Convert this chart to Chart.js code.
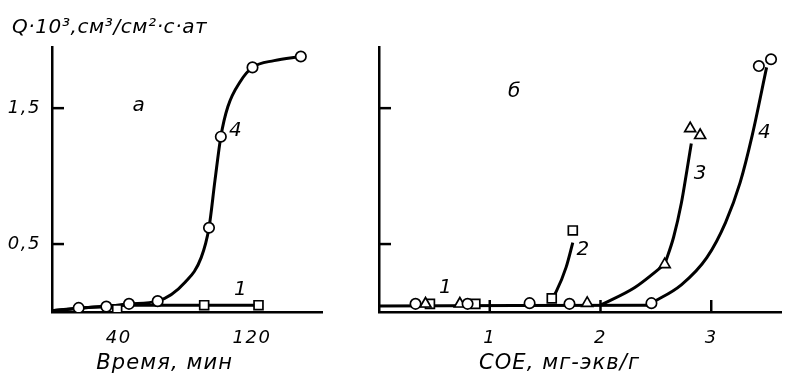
<!DOCTYPE html>
<html>
<head>
<meta charset="utf-8">
<script src="https://cdn.jsdelivr.net/npm/chart.js@4.4.1/dist/chart.umd.min.js"></script>
<style>
body { margin: 0; background: #fff; }
#wrap { position: relative; width: 789px; height: 380px; }
canvas { position: absolute; top: 0; }
</style>
</head>
<body>
<div id="wrap">
  <canvas id="chartA" width="330" height="380" style="left:0"></canvas>
  <canvas id="chartB" width="459" height="380" style="left:330px"></canvas>
</div>
<script>
// ---- panel а : Q vs time ----
const timeTicks = [40, 120];
const qTicks = [0.5, 1.5];
const timeCircles = [16, 32.6, 46.2, 63.4, 94.2, 101.3, 120.3, 149.3];
const qCircles = [0.03, 0.04, 0.06, 0.08, 0.62, 1.29, 1.80, 1.88];
const timeSquares = [39.1, 91.3, 123.9];
const qSquares = [0.02, 0.05, 0.05];
const timeCurve4 = [0, 16, 32.6, 46.2, 63.4, 80, 89.5, 94.2, 97.8, 101.3, 105.5, 113.2, 120.3, 133.3, 149.3];
const qCurve4 = [0.01, 0.03, 0.04, 0.06, 0.08, 0.22, 0.40, 0.62, 0.97, 1.29, 1.51, 1.70, 1.80, 1.85, 1.88];
const timeCurve1 = [0, 46.2, 91.3, 123.9];
const qCurve1 = [0.01, 0.05, 0.05, 0.05];
const notesA = ['а', '4', '1'];
const notesAx = [52, 110, 113];
const notesAy = [1.52, 1.33, 0.16];

// ---- panel б : Q vs СОЕ ----
const coeTicks = [1, 2, 3];
const coeCircles = [0.33, 0.80, 1.36, 1.72, 2.46, 3.43, 3.54];
const qbCircles = [0.06, 0.06, 0.065, 0.06, 0.065, 1.81, 1.86];
const coeTriangles = [0.42, 0.73, 1.88, 2.58, 2.81, 2.90];
const qbTriangles = [0.06, 0.06, 0.065, 0.35, 1.35, 1.30];
const coeSquares = [0.46, 0.87, 1.56, 1.75];
const qbSquares = [0.06, 0.06, 0.10, 0.60];
const coeCurve1 = [0, 2.46];
const qbCurve1 = [0.045, 0.05];
const coeCurve2 = [1.56, 1.60, 1.69, 1.75];
const qbCurve2 = [0.10, 0.15, 0.33, 0.51];
const coeCurve3a = [2.0, 2.31, 2.58]; // до треугольника
const qbCurve3a = [0.05, 0.18, 0.35];
const coeCurve3b = [2.58, 2.66, 2.73, 2.78, 2.82]; // после треугольника
const qbCurve3b = [0.35, 0.55, 0.80, 1.04, 1.24];
const coeCurve4 = [2.46, 2.73, 2.96, 3.13, 3.26, 3.37, 3.50];
const qbCurve4 = [0.065, 0.20, 0.40, 0.66, 0.95, 1.30, 1.80];
const notesB = ['б', '4', '3', '2', '1'];
const notesBx = [1.22, 3.48, 2.90, 1.84, 0.60];
const notesBy = [1.62, 1.32, 1.02, 0.46, 0.18];

const FONT = "'DejaVu Sans', sans-serif";

function pts(xs, ys) { // пары x/y для scatter
  return xs.map((x, i) => ({ x: x, y: ys[i] }));
}

function markers(xs, ys, style) {
  return {
    data: pts(xs, ys), showLine: false, pointStyle: style,
    pointRadius: style === 'circle' ? 5.2 : 6.3,
    pointBackgroundColor: '#fff', pointBorderColor: '#000', pointBorderWidth: 1.7
  };
}

function curve(xs, ys) {
  return {
    data: pts(xs, ys), showLine: true, borderColor: '#000', borderWidth: 3,
    pointRadius: 0, cubicInterpolationMode: 'monotone'
  };
}

// засечки внутрь, подписи кривых, заголовок и подпись оси
const paperPlugin = {
  id: 'paper',
  beforeDraw(chart) {
    chart.ctx.letterSpacing = '1.5px';
  },
  afterDatasetsDraw(chart, args, opts) {
    const ctx = chart.ctx;
    const xs = chart.scales.x, ys = chart.scales.y;
    const area = chart.chartArea;
    ctx.save();
    ctx.strokeStyle = '#000';
    ctx.lineWidth = 2.5;
    opts.yMarks.forEach(v => {
      const py = ys.getPixelForValue(v);
      ctx.beginPath(); ctx.moveTo(area.left, py); ctx.lineTo(area.left + 12, py); ctx.stroke();
    });
    opts.xMarks.forEach(v => {
      const px = xs.getPixelForValue(v);
      ctx.beginPath(); ctx.moveTo(px, area.bottom); ctx.lineTo(px, area.bottom - 12); ctx.stroke();
    });
    ctx.fillStyle = '#000';
    ctx.textAlign = 'center';
    ctx.textBaseline = 'middle';
    ctx.letterSpacing = '0px';
    ctx.font = 'italic 20px ' + FONT;
    opts.notes.forEach((t, i) => {
      ctx.fillText(t, xs.getPixelForValue(opts.notesX[i]), ys.getPixelForValue(opts.notesY[i]));
    });
    ctx.letterSpacing = '1.1px';
    ctx.font = 'italic 21px ' + FONT;
    ctx.fillText(opts.caption, xs.getPixelForValue(opts.captionAt), area.bottom + 52);
    if (opts.heading) {
      ctx.textAlign = 'left';
      ctx.letterSpacing = '0.6px';
      ctx.font = 'italic 20px ' + FONT;
      ctx.fillText(opts.heading, 12, 28);
    }
    ctx.restore();
  }
};

function makeChart(id, cfg) {
  return new Chart(document.getElementById(id), {
    type: 'scatter',
    data: { datasets: cfg.datasets },
    options: {
      responsive: false,
      animation: false,
      devicePixelRatio: 1,
      layout: { padding: cfg.padding },
      plugins: {
        legend: { display: false },
        tooltip: { enabled: false },
        title: { display: false },
        paper: cfg.paper
      },
      scales: {
        x: {
          type: 'linear', min: 0, max: cfg.xMax,
          grid: { display: false, drawTicks: false },
          border: { display: true, color: '#000', width: 2.5 },
          afterBuildTicks: s => { s.ticks = cfg.xTicks.map(v => ({ value: v })); },
          afterFit: s => { s.height = 68; },
          ticks: { color: '#000', padding: 16, font: { family: FONT, size: 18, style: 'italic' } }
        },
        y: {
          type: 'linear', min: 0, max: 1.95,
          grid: { display: false, drawTicks: false },
          border: { display: true, color: '#000', width: 2.5 },
          afterBuildTicks: s => { s.ticks = qTicks.map(v => ({ value: v })); },
          afterFit: s => { s.width = cfg.yWidth; },
          ticks: {
            display: cfg.yLabels, color: '#000', padding: 11,
            font: { family: FONT, size: 18, style: 'italic' },
            callback: v => String(v).replace('.', ',')
          }
        }
      }
    },
    plugins: [paperPlugin]
  });
}

const chartA = makeChart('chartA', {
  datasets: [
    markers(timeCircles, qCircles, 'circle'),
    markers(timeSquares, qSquares, 'rect'),
    curve(timeCurve4, qCurve4),
    curve(timeCurve1, qCurve1)
  ],
  padding: { left: 0, right: 5, top: 47, bottom: 0 },
  xMax: 162, xTicks: timeTicks, yWidth: 52, yLabels: true,
  paper: {
    yMarks: qTicks, xMarks: [],
    notes: notesA, notesX: notesAx, notesY: notesAy,
    caption: 'Время, мин', captionAt: 67.6,
    heading: 'Q·10³,см³/см²·с·ат'
  }
});

const chartB = makeChart('chartB', {
  datasets: [
    markers(coeCircles, qbCircles, 'circle'),
    markers(coeTriangles, qbTriangles, 'triangle'),
    markers(coeSquares, qbSquares, 'rect'),
    curve(coeCurve1, qbCurve1),
    curve(coeCurve2, qbCurve2),
    curve(coeCurve3a, qbCurve3a),
    curve(coeCurve3b, qbCurve3b),
    curve(coeCurve4, qbCurve4)
  ],
  padding: { left: 0, right: 0, top: 47, bottom: 0 },
  xMax: 3.63, xTicks: coeTicks, yWidth: 49, yLabels: false,
  paper: {
    yMarks: qTicks, xMarks: coeTicks,
    notes: notesB, notesX: notesBx, notesY: notesBy,
    caption: 'СОЕ, мг-экв/г', captionAt: 1.63,
    heading: ''
  }
});
</script>
</body>
</html>
